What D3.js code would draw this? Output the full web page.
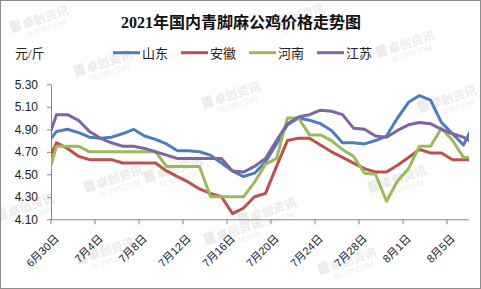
<!DOCTYPE html>
<html>
<head>
<meta charset="utf-8">
<script src="https://cdn.jsdelivr.net/npm/d3@7"></script>
<style>
    body { margin: 0; background: #fff; }
    svg text { font-family: "Liberation Sans", "Noto Sans CJK SC", sans-serif; }
</style>
</head>
<body>
<div id="chart"></div>
<script>
// categories: 6/29 and 8/7 only feed the half-step at both plot edges
var dates = ["6月29日", "6月30日", "7月1日", "7月2日", "7月3日", "7月4日", "7月5日", "7月6日",
    "7月7日", "7月8日", "7月9日", "7月10日", "7月11日", "7月12日", "7月13日", "7月14日",
    "7月15日", "7月16日", "7月17日", "7月18日", "7月19日", "7月20日", "7月21日", "7月22日",
    "7月23日", "7月24日", "7月25日", "7月26日", "7月27日", "7月28日", "7月29日", "7月30日",
    "7月31日", "8月1日", "8月2日", "8月3日", "8月4日", "8月5日", "8月6日", "8月7日"];
var tickDates = ["6月30日", "7月4日", "7月8日", "7月12日", "7月16日", "7月20日", "7月24日", "7月28日", "8月1日", "8月5日"];
var yTicks = [4.10, 4.30, 4.50, 4.70, 4.90, 5.10, 5.30];

var shandong = [4.76, 4.88, 4.90, 4.87, 4.83, 4.82, 4.83, 4.86, 4.90, 4.84, 4.81, 4.77, 4.71, 4.71,
    4.70, 4.67, 4.60, 4.53, 4.48, 4.51, 4.61, 4.77, 4.94, 5.00, 4.98, 4.95, 4.89, 4.78, 4.78, 4.77,
    4.80, 4.84, 5.00, 5.14, 5.20, 5.16, 4.96, 4.86, 4.76, 4.96];
var anhui = [4.58, 4.78, 4.73, 4.66, 4.63, 4.63, 4.63, 4.60, 4.60, 4.60, 4.60, 4.53, 4.48, 4.43,
    4.37, 4.33, 4.30, 4.15, 4.20, 4.30, 4.33, 4.57, 4.80, 4.82, 4.82, 4.76, 4.70, 4.65, 4.60, 4.55,
    4.52, 4.52, 4.58, 4.65, 4.72, 4.69, 4.69, 4.63, 4.63, 4.63];
var henan = [4.41, 4.75, 4.75, 4.75, 4.70, 4.70, 4.70, 4.70, 4.70, 4.70, 4.70, 4.57, 4.57, 4.57,
    4.57, 4.30, 4.30, 4.30, 4.30, 4.43, 4.59, 4.64, 5.00, 5.00, 4.85, 4.85, 4.80, 4.72, 4.66, 4.51,
    4.50, 4.26, 4.44, 4.55, 4.75, 4.75, 4.91, 4.80, 4.65, 4.65];
var jiangsu = [4.75, 5.03, 5.03, 4.98, 4.88, 4.82, 4.78, 4.75, 4.75, 4.73, 4.70, 4.67, 4.64, 4.64,
    4.64, 4.64, 4.64, 4.53, 4.52, 4.57, 4.64, 4.80, 4.95, 5.01, 5.03, 5.07, 5.06, 5.03, 4.91, 4.90,
    4.84, 4.83, 4.89, 4.94, 4.96, 4.95, 4.90, 4.86, 4.83, 4.77];

var seriesNames = ["山东", "安徽", "河南", "江苏"];
var seriesValues = [shandong, anhui, henan, jiangsu];
var colors = ["#4a7ebe", "#c0504d", "#9bbb59", "#8064a2"];

var W = 481, H = 289;
var plot = { left: 51, right: 469, top: 84.3, bottom: 219.3 };

var step = (plot.right - plot.left) / (dates.length - 2);
var x = d3.scaleBand()
    .domain(dates)
    .range([plot.left - step, plot.right + step]);
var cx = d => x(d) + x.bandwidth() / 2;

var y = d3.scaleLinear()
    .domain([4.10, 5.30])
    .range([plot.bottom, plot.top]);

var svg = d3.select('#chart')
    .append('svg')
    .attr('width', W)
    .attr('height', H);

svg.append('rect')
    .attr('width', W).attr('height', H)
    .attr('fill', '#fff');

// faint site watermarks
var marks = [[44, 20], [300, 18], [410, 45], [108, 64], [236, 96], [118, 180], [178, 170],
    [272, 212], [452, 100], [402, 180], [110, 252], [352, 262], [238, 232], [30, 208]];
var wm = svg.append('g').attr('class', 'watermarks');
marks.forEach(function (m) {
    var g = wm.append('g').attr('transform', `translate(${m[0]},${m[1]}) rotate(-18)`);
    g.append('rect').attr('x', -34).attr('y', -9).attr('width', 10).attr('height', 12).attr('fill', '#ededed');
    g.append('text').attr('x', -22).attr('y', 2).attr('font-size', 12).attr('font-weight', 'bold')
        .attr('fill', '#ebebeb').text('卓创资讯');
    g.append('text').attr('x', -22).attr('y', 11).attr('font-size', 8)
        .style('font-family', '"Liberation Serif", serif')
        .attr('fill', '#ebebeb').text('SC199.COM');
});

svg.append('defs').append('clipPath').attr('id', 'plotclip')
    .append('rect')
    .attr('x', plot.left).attr('y', 0)
    .attr('width', plot.right - plot.left).attr('height', H);

// title
svg.append('text')
    .attr('x', 241).attr('y', 28)
    .attr('text-anchor', 'middle')
    .attr('font-size', 16)
    .attr('font-weight', 'bold')
    .style('font-family', '"Liberation Serif", "Noto Sans CJK SC", serif')
    .attr('fill', '#111')
    .text('2021年国内青脚麻公鸡价格走势图');

// unit
svg.append('text')
    .attr('x', 15).attr('y', 58)
    .attr('font-size', 13)
    .style('font-family', '"Liberation Serif", "Noto Sans CJK SC", serif')
    .attr('fill', '#222')
    .text('元/斤');

// legend
var legend = svg.append('g').attr('class', 'legend')
    .selectAll('g')
    .data(seriesNames)
    .enter()
    .append('g')
    .attr('transform', (d, i) => `translate(${113 + i * 68}, 52.7)`);
legend.append('line')
    .attr('x1', 0).attr('x2', 27)
    .attr('stroke', (d, i) => colors[i])
    .attr('stroke-width', 3);
legend.append('text')
    .attr('x', 29).attr('y', 4.8)
    .attr('font-size', 13)
    .attr('fill', '#222')
    .style('font-family', '"Noto Sans CJK SC", sans-serif')
    .text(d => d);

// y axis
var yAxis = svg.append('g')
    .attr('class', 'axis y')
    .attr('transform', `translate(${plot.left}, 0)`)
    .call(d3.axisLeft(y).tickValues(yTicks).tickFormat(d3.format('.2f'))
        .tickSize(4).tickSizeOuter(0).tickPadding(9));
yAxis.select('.domain').attr('stroke', '#868686');
yAxis.selectAll('.tick line').attr('stroke', '#868686');
yAxis.selectAll('.tick text')
    .attr('font-size', 12)
    .attr('fill', '#222')
    .style('font-family', '"Liberation Sans", sans-serif');

// x axis: ticks sit on category boundaries
var xAxis = svg.append('g')
    .attr('class', 'axis x')
    .attr('transform', `translate(0, ${plot.bottom})`)
    .call(d3.axisBottom(x).tickValues(tickDates).tickSize(5).tickFormat(''));
xAxis.select('.domain').remove();
xAxis.selectAll('.tick line')
    .attr('stroke', '#868686')
    .attr('transform', `translate(${-x.bandwidth() / 2}, 0)`);
xAxis.append('line')
    .attr('x1', plot.left).attr('x2', plot.right)
    .attr('y1', 0.5).attr('y2', 0.5)
    .attr('stroke', '#868686');

svg.append('g')
    .attr('class', 'x-labels')
    .selectAll('text')
    .data(tickDates)
    .enter()
    .append('text')
    .attr('transform', d => `translate(${cx(d) + 3}, ${plot.bottom + 20}) rotate(-45)`)
    .attr('text-anchor', 'end')
    .attr('font-size', 11)
    .attr('fill', '#222')
    .text(d => d);

// lines
var line = d3.line()
    .x((d, i) => cx(dates[i]))
    .y(d => y(d));

svg.append('g')
    .attr('class', 'lines')
    .attr('clip-path', 'url(#plotclip)')
    .selectAll('path')
    .data(seriesValues)
    .enter()
    .append('path')
    .attr('d', line)
    .attr('fill', 'none')
    .attr('stroke', (d, i) => colors[i])
    .attr('stroke-width', 3)
    .attr('stroke-linejoin', 'round');

// outer frame
svg.append('rect')
    .attr('x', 0.5).attr('y', 0.5)
    .attr('width', W - 1).attr('height', H - 1)
    .attr('fill', 'none')
    .attr('stroke', '#8c8c8c');
</script>
</body>
</html>
